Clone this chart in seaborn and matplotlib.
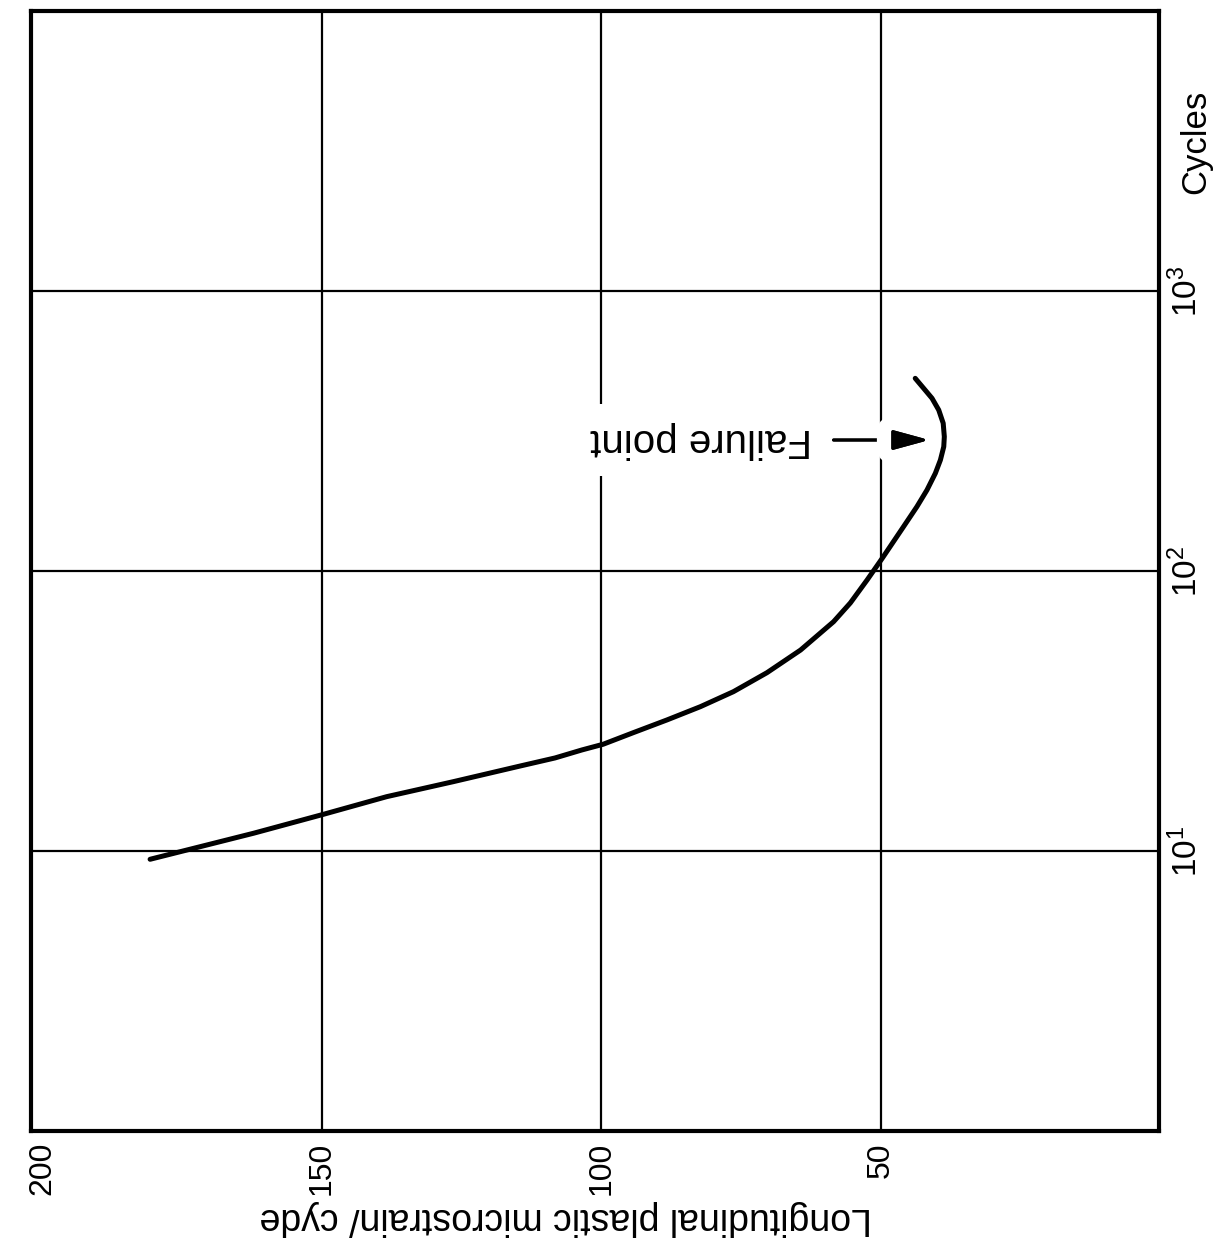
import matplotlib
matplotlib.use("Agg")
import matplotlib.pyplot as plt
import matplotlib.patheffects as pe
from matplotlib import font_manager
import pandas as pd
import seaborn as sns

# Plastic strain per cycle versus number of cycles (log scale)
strain_vals = [180.7, 174.8, 162.2, 149.7, 138.4, 126.5, 114.5, 108.3, 103.5,
               99.7, 94.3, 88.3, 82.3, 76.4, 70.4, 64.4, 58.5, 55.5, 52.5,
               49.8, 46.0, 43.6, 41.8, 40.3, 39.4, 38.8, 38.7, 38.9, 39.7,
               40.9, 42.4, 43.9]
cycle_vals = [9.34, 10.0, 11.57, 13.52, 15.63, 17.68, 20.12, 21.49, 22.95,
              24.05, 26.46, 29.37, 32.77, 37.07, 43.34, 52.2, 65.9, 76.9, 92.9,
              111.0, 143.9, 169.7, 194.6, 223.4, 249.1, 277.9, 301.7, 337.0, 375.8,
              413.8, 449.3, 487.6]

strain_ticks = [200, 150, 100, 50]
strain_tick_labels = ["200", "150", "100", "50"]
cycle_ticks = [10, 100, 1000]
cycle_tick_labels = [r"$\mathregular{10^{1}}$", r"$\mathregular{10^{2}}$", r"$\mathregular{10^{3}}$"]

failure_strain = 41.4
failure_cycles = 293.6
arrow_tail_strain = 58.5
failure_text_strain = 82.1

df = pd.DataFrame({"strain": strain_vals, "cycles": cycle_vals})

sns.set_theme(style="white")
installed = {f.name for f in font_manager.fontManager.ttflist}
family = "Liberation Sans" if "Liberation Sans" in installed else "DejaVu Sans"
plt.rcParams["font.family"] = [family, "DejaVu Sans"]
plt.rcParams["mathtext.default"] = "regular"

fig = plt.figure(figsize=(12.19, 12.49), dpi=100)
ax = fig.add_axes([0.0254, 0.0945, 0.925, 0.8967])

sns.lineplot(data=df, x="strain", y="cycles", sort=False, estimator=None,
             color="black", linewidth=3.6, ax=ax, zorder=6)

ax.set_yscale("log")
ax.set_xlim(202, 0.4)
ax.set_ylim(1, 1.0e4)

ax.set_xticks(strain_ticks)
ax.set_xticklabels(strain_tick_labels, rotation=90, fontsize=23)
ax.yaxis.tick_right()
ax.set_yticks(cycle_ticks)
ax.set_yticklabels(cycle_tick_labels, rotation=90, fontsize=24, va="center")
ax.yaxis.set_minor_locator(matplotlib.ticker.NullLocator())
ax.tick_params(axis="both", length=0, pad=8, colors="black")

ax.grid(True, which="major", color="black", linewidth=1.6)
ax.set_axisbelow(True)
ax.xaxis.get_major_ticks()[0].gridline.set_visible(False)

for s in ax.spines.values():
    s.set_visible(True)
    s.set_color("black")
    s.set_linewidth(3.0)

ax.set_xlabel("Longitudinal plastic microstrain/ cyde", fontsize=27, rotation=180,
              color="black")
ax.xaxis.set_label_coords(0.474, -0.062)
ax.yaxis.set_label_position("right")
ax.set_ylabel("Cycles", fontsize=25, rotation=90, color="black")
ax.yaxis.set_label_coords(1.018, 0.883)

arrow = ax.annotate("", xy=(failure_strain, failure_cycles),
                    xytext=(arrow_tail_strain, failure_cycles),
                    arrowprops=dict(arrowstyle="-|>,head_length=1.1,head_width=0.3",
                                    color="black", lw=2.2, shrinkA=0, shrinkB=0,
                                    mutation_scale=20),
                    zorder=4)
arrow.arrow_patch.set_path_effects([pe.withStroke(linewidth=23, foreground="white"),
                                    pe.Normal()])
ax.text(failure_text_strain, failure_cycles, "Failure point", rotation=180,
        ha="center", va="center", fontsize=29, color="black", zorder=4,
        bbox=dict(facecolor="white", edgecolor="none", pad=12))

fig.savefig("out.png", dpi=100, facecolor="white")
